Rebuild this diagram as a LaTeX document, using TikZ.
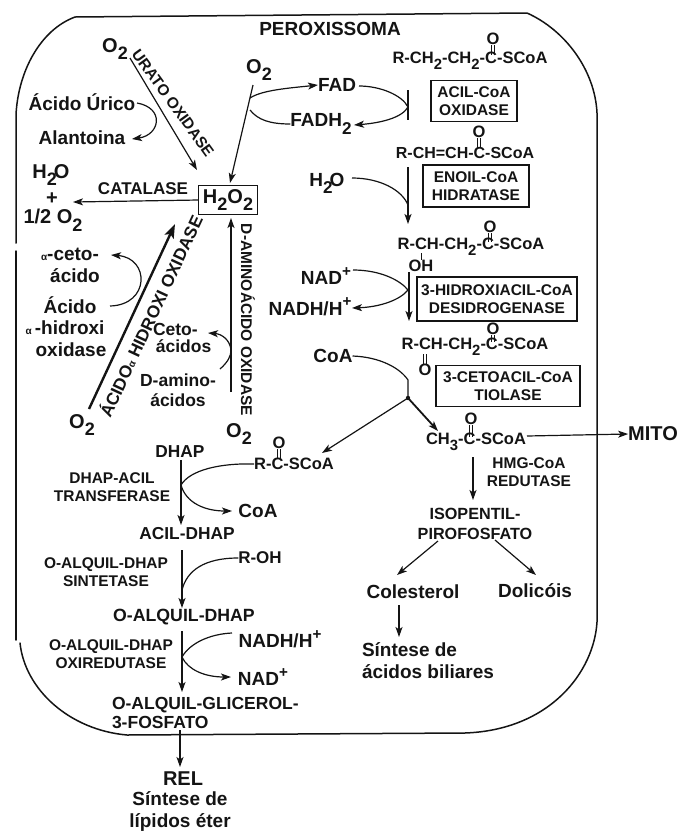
\documentclass[tikz,border=0pt]{standalone}
\usepackage{fontspec}
\usepackage{graphicx}
\setmainfont{Liberation Sans}
\usetikzlibrary{arrows.meta}
\newcommand{\sbn}[1]{\raisebox{-0.38em}{\scalebox{0.9}{#1}}}
\newcommand{\spn}[1]{\raisebox{0.45em}{\scalebox{0.8}{#1}}}
\newcommand{\alf}{{\fontsize{10}{10}\selectfont α}}
\newcommand{\dblb}[2]{\draw[bondl,transform canvas={xshift=-1.3pt}] (#1) -- (#2);\draw[bondl,transform canvas={xshift=1.3pt}] (#1) -- (#2);}
\tikzset{
  x=1pt,y=-1pt,
  fs/.style={inner sep=0pt,outer sep=0pt,text=black!92,font=\fontsize{#1}{#1}\bfseries\selectfont,align=center},
  lab/.style={fs=15.5},
  big/.style={fs=19},
  chem/.style={fs=16.5},
  oxy/.style={fs=20},
  boxn/.style={draw=black!92,line width=1.2pt,fs=15.5},
  conn/.style={line width=1.2pt,draw=black!92},
  bondl/.style={line width=.8pt,draw=black!92},
  arr/.style={conn,-{Stealth[length=10pt,width=7pt,inset=2.5pt]}},
  heavy/.style={line width=2.4pt,draw=black!92,-{Stealth[length=14pt,width=10pt,inset=3pt]}},
  wall/.style={line width=1.5pt,draw=black!92,line cap=round}
}
\begin{document}
\begin{tikzpicture}
\useasboundingbox (0,0) rectangle (682,831);
% membrane
\draw[wall] (16,243) -- (16,115) .. controls (18,72) and (40,30) .. (75,17) -- (527,13)
  .. controls (565,30) and (595,70) .. (597,113) -- (597,622)
  .. controls (594,672) and (550,730) .. (465,733) -- (127,735)
  .. controls (70,730) and (25,690) .. (20,643);
\draw[wall] (16,251) -- (16,640);
% top labels
\node[fs=19] (title) at (330,29) {PEROXISSOMA};
\node[oxy] (o2a) at (115,49) {O\sbn{2}};
\node[oxy] (o2b) at (259,70) {O\sbn{2}};
\node[fs=15.5,rotate=-54] (urato) at (173,103) {URATO OXIDASE};
\node[big] (urico) at (82,102) {Ácido Úrico};
\node[big] (alant) at (82,138) {Alantoina};
\node[oxy] (h2o) at (51,175) {H\sbn{2}\kern-3pt O};
\node[oxy] (plus) at (52,199) {+};
\node[oxy] (half) at (53,220) {1/2 O\sbn{2}};
\node[fs=17] (cat) at (143,189) {CATALASE};
\node[draw=black!92,line width=1.2pt,fs=20,minimum width=59pt,minimum height=29pt] (hp) at (228,200) {H\sbn{2}O\sbn{2}};
\node[big] (fad) at (337,85) {FAD};
\node[big] (fadh) at (321,124) {FADH\sbn{2}};
\node[fs=19] (h2ob) at (327,183) {H\sbn{2}\kern-3pt O};
\node[big] (nad) at (326,276) {NAD\spn{+}};
\node[big] (nadh) at (310,307) {NADH/H\spn{+}};
\node[big] (coa) at (333,356) {CoA};
% chemistry right
\node[chem] (c1) at (470,61) {R-CH\sbn{2}-CH\sbn{2}-C-SCoA};
\node[chem] (o1) at (493,39) {O};
\coordinate (c1c) at (493,55);
\dblb{o1}{c1c}
\node[boxn,minimum width=86pt,minimum height=41pt] (b1) at (474,101) {ACIL-CoA\\[3pt]OXIDASE};
\node[fs=16] (c2) at (465,153) {R-CH=CH-C-SCoA};
\node[chem] (o2) at (479,132) {O};
\coordinate (c2c) at (479,148);
\dblb{o2}{c2c}
\node[boxn,minimum width=106pt,minimum height=42pt] (b2) at (476,186) {ENOIL-CoA\\[3pt]HIDRATASE};
\node[chem] (c3) at (471,247) {R-CH-CH\sbn{2}-C-SCoA};
\node[chem] (o3) at (490,227) {O};
\coordinate (c3c) at (490,242);
\dblb{o3}{c3c}
\node[chem] (oh) at (421,266) {OH};
\coordinate (c3h) at (421,253);
\draw[bondl] (c3h) -- (oh);
\node[boxn,minimum width=160pt,minimum height=44pt] (b3) at (497,299) {3-HIDROXIACIL-CoA\\[3pt]DESIDROGENASE};
\node[chem] (c4) at (475,347) {R-CH-CH\sbn{2}-C-SCoA};
\node[chem] (o4) at (493,329) {O};
\coordinate (c4c) at (493,342);
\dblb{o4}{c4c}
\node[chem] (o4b) at (425,370) {O};
\coordinate (c4h) at (425,354);
\dblb{o4b}{c4h}
\node[boxn,minimum width=144pt,minimum height=41pt] (b4) at (508,386) {3-CETOACIL-CoA\\[3pt]TIOLASE};
\node[chem] (c5) at (476,442) {CH\sbn{3}-C-SCoA};
\node[chem] (o5) at (471,419) {O};
\coordinate (c5c) at (471,437);
\dblb{o5}{c5c}
\node[oxy] (mito) at (653,434) {MITO};
\node[fs=15.5] (hmg) at (529,472) {HMG-CoA\\[3pt]REDUTASE};
\node[fs=16.2] (iso) at (475,524) {ISOPENTIL-\\[3pt]PIROFOSFATO};
\node[big] (col) at (413,592) {Colesterol};
\node[big] (dol) at (535,591) {Dolicóis};
\node[big,align=left,anchor=west] (sint) at (362,661) {Síntese de\\[3pt]ácidos biliares};
% left lower
\node[big] (aceto) at (70,254) {\alf-ceto-};
\node[big] (acido) at (75,276) {ácido};
\node[big] (ahid) at (70,305) {Ácido};
\node[big] (hidx) at (65,328) {\alf\,-hidroxi};
\node[big] (oxid) at (71,350) {oxidase};
\node[fs=17.2,rotate=65] (ahox) at (150,316) {ÁCIDO\alf\ HIDROXI OXIDASE};
\node[fs=17.5,align=left,anchor=west] (ceto) at (153,338) {Ceto-\\[-1pt]\,ácidos};
\node[fs=17.5] (damino) at (178,390) {D-amino-\\[2pt]ácidos};
\node[fs=15.5,rotate=-90] (daox) at (248,320) {D-AMINOÁCIDO OXIDASE};
\node[oxy] (o2c) at (82,425) {O\sbn{2}};
\node[oxy] (o2d) at (239,434) {O\sbn{2}};
\node[fs=17.3] (dhap) at (180,452) {DHAP};
\node[chem] (rc) at (294,464) {R-C-SCoA};
\node[chem] (o6) at (279,443) {O};
\coordinate (c6c) at (279,459);
\dblb{o6}{c6c}
\node[lab] (t1) at (112,487) {DHAP-ACIL\\[3pt]TRANSFERASE};
\node[big] (coab) at (258,511) {CoA};
\node[fs=17.3] (adhap) at (187,534) {ACIL-DHAP};
\node[lab] (t2) at (106,572) {O-ALQUIL-DHAP\\[3pt]SINTETASE};
\node[fs=17] (roh) at (260,558) {R-OH};
\node[fs=17.7] (odhap) at (184,617) {O-ALQUIL-DHAP};
\node[lab] (t3) at (111,654) {O-ALQUIL-DHAP\\[3pt]OXIREDUTASE};
\node[big] (nadhb) at (280,639) {NADH/H\spn{+}};
\node[big] (nadb) at (263,677) {NAD\spn{+}};
\node[fs=17.5,align=left,anchor=west] (glic) at (112,713) {O-ALQUIL-GLICEROL-\\[2pt]3-FOSFATO};
\node[fs=20] (rel) at (183,779) {REL};
\node[big] (lip) at (180,811) {Síntese de\\[3pt]lípidos éter};
% connector ends
\coordinate (j1) at (408,107);
\coordinate (j2) at (408,290);
\coordinate (j3) at (408,398);
\coordinate (ja) at (250,98);
\coordinate (jb) at (250,110);
\coordinate (d1) at (181,485);
\coordinate (d2) at (182,590);
\coordinate (d3) at (182,657);
% connectors
\draw[arr] (130,58) -- (197,170);
\draw[arr] (137,103) .. controls (165,108) and (160,135) .. (132,139);
\draw[arr] (hp.west) -- (73,202);
\draw[arr] (253,85) -- (230,183);
\draw[arr] (ja) .. controls (262,90) and (290,88) .. (fad.west);
\draw[conn] (jb) .. controls (258,120) and (270,124) .. (fadh.west);
\draw[conn] (359,86) .. controls (380,86) and (402,95) .. (j1);
\draw[arr] (j1) .. controls (402,118) and (380,123) .. (354,125);
\draw[conn] (408,90) -- (408,120);
\draw[arr] (408,167) -- (408,224);
\draw[conn] (352,178) .. controls (380,178) and (402,190) .. (408,205);
\draw[conn] (353,270) .. controls (380,270) and (400,280) .. (j2);
\draw[arr] (j2) .. controls (400,300) and (380,307) .. (352,308);
\draw[arr] (409,272) -- (409,321);
\draw[conn] (coa.east) .. controls (380,357) and (400,368) .. (408,380) -- (j3);
\draw[arr,line width=1.8pt] (j3) -- (438,431);
\draw[arr] (j3) -- (322,453);
\fill[black!92] (j3) circle (2.2pt);
\draw[arr] (527,436) -- (mito.west);
\draw[arr] (473,457) -- (473,500);
\draw[arr] (438,541) -- (397,575);
\draw[arr] (495,540) -- (536,575);
\draw[arr] (399,605) -- (399,637);
% left connectors
\draw[arr] (110,306) .. controls (150,305) and (150,258) .. (111,255);
\draw[heavy] (89,409) -- (175,224);
\draw[arr] (231,392) -- (231,218);
\draw[conn] (220,369) .. controls (228,362) and (231,356) .. (231,350);
\draw[arr] (231,350) .. controls (230,340) and (222,334) .. (208,333);
% bottom left path
\draw[arr] (dhap.south) ++(1,2) -- (181,525);
\draw[conn] (rc.west) .. controls (220,463) and (190,470) .. (d1);
\draw[arr] (d1) .. controls (186,503) and (205,511) .. (232,511);
\draw[arr] (182,550) -- (182,608);
\draw[conn] (roh.west) .. controls (205,558) and (187,570) .. (d2);
\draw[arr] (182,631) -- (182,692);
\draw[conn] (232,633) .. controls (210,634) and (190,643) .. (d3);
\draw[arr] (d3) .. controls (188,670) and (205,677) .. (231,677);
\draw[arr] (180,730) -- (180,767);
\end{tikzpicture}
\end{document}
